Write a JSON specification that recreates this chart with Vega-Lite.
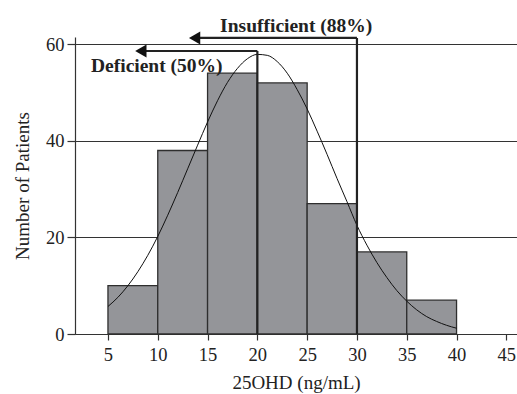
{
  "$schema": "https://vega.github.io/schema/vega-lite/v6.json",
  "width": 442,
  "height": 297,
  "autosize": {"type": "none"},
  "padding": {"left": 75, "top": 37, "right": 0, "bottom": 60},
  "background": "white",
  "config": {
    "view": {"stroke": null},
    "font": "Liberation Serif",
    "axis": {"labelFont": "Liberation Serif", "titleFont": "Liberation Serif", "labelColor": "#222", "titleColor": "#222", "labelFontSize": 18.5, "titleFontSize": 19, "titleFontWeight": "normal", "domainColor": "#333", "tickColor": "#333", "domainWidth": 1.2, "tickWidth": 1.2}
  },
  "datasets": {
    "bins": [
      {"start": 5, "end": 10, "count": 10, "base": 0},
      {"start": 10, "end": 15, "count": 38, "base": 0},
      {"start": 15, "end": 20, "count": 54, "base": 0},
      {"start": 20, "end": 25, "count": 52, "base": 0},
      {"start": 25, "end": 30, "count": 27, "base": 0},
      {"start": 30, "end": 35, "count": 17, "base": 0},
      {"start": 35, "end": 40, "count": 7, "base": 0}
    ],
    "curve": [
      {"x": 5, "y": 5.7}, {"x": 6, "y": 7.6}, {"x": 7, "y": 10.0}, {"x": 8, "y": 12.9}, {"x": 9, "y": 16.3},
      {"x": 10, "y": 20.2}, {"x": 11, "y": 24.6}, {"x": 12, "y": 29.3}, {"x": 13, "y": 34.2}, {"x": 14, "y": 39.1},
      {"x": 15, "y": 43.9}, {"x": 16, "y": 48.3}, {"x": 17, "y": 52.1}, {"x": 18, "y": 55.0}, {"x": 19, "y": 57.0},
      {"x": 20, "y": 57.9}, {"x": 21, "y": 57.7}, {"x": 22, "y": 56.4}, {"x": 23, "y": 54.0}, {"x": 24, "y": 50.6},
      {"x": 25, "y": 46.6}, {"x": 26, "y": 42.0}, {"x": 27, "y": 37.2}, {"x": 28, "y": 32.2}, {"x": 29, "y": 27.4},
      {"x": 30, "y": 22.5}, {"x": 31, "y": 18.4}, {"x": 32, "y": 14.8}, {"x": 33, "y": 11.7}, {"x": 34, "y": 9.0},
      {"x": 35, "y": 6.8}, {"x": 36, "y": 5.0}, {"x": 37, "y": 3.6}, {"x": 38, "y": 2.6}, {"x": 39, "y": 1.8},
      {"x": 40, "y": 1.2}
    ],
    "arrows": [
      {"label": "Insufficient (88%)", "tip": 13.0, "head": 13.7, "end": 30, "y": 61.3, "base": 0, "tx": 23.9, "ty": 62.6},
      {"label": "Deficient (50%)", "tip": 7.6, "head": 8.3, "end": 20, "y": 58.6, "base": 0, "tx": 9.9, "ty": 54.2}
    ]
  },
  "layer": [
    {
      "data": {"name": "bins"},
      "mark": {"type": "rect", "fill": "#949599", "stroke": "#2e2e2e", "strokeWidth": 1.3},
      "encoding": {
        "x": {"field": "start", "type": "quantitative",
          "scale": {"domain": [1.69, 46.07], "nice": false, "zero": false},
          "axis": {"values": [5, 10, 15, 20, 25, 30, 35, 40, 45], "title": "25OHD (ng/mL)", "grid": false, "tickSize": 6, "labelPadding": 5, "titlePadding": 10}},
        "x2": {"field": "end"},
        "y": {"field": "count", "type": "quantitative",
          "scale": {"domain": [0, 61.5], "nice": false},
          "axis": {"values": [0, 20, 40, 60], "title": "Number of Patients", "grid": true, "gridColor": "#333", "gridWidth": 1.2, "gridOpacity": 1, "tickSize": 8, "labelPadding": 3, "titlePadding": 13}},
        "y2": {"field": "base"}
      }
    },
    {
      "data": {"name": "curve"},
      "mark": {"type": "line", "color": "#111", "strokeWidth": 1, "interpolate": "monotone"},
      "encoding": {
        "x": {"field": "x", "type": "quantitative"},
        "y": {"field": "y", "type": "quantitative"}
      }
    },
    {
      "data": {"name": "arrows"},
      "mark": {"type": "rule", "color": "#222", "strokeWidth": 2.2},
      "encoding": {
        "x": {"field": "end", "type": "quantitative"},
        "y": {"field": "y", "type": "quantitative"},
        "y2": {"field": "base"}
      }
    },
    {
      "data": {"name": "arrows"},
      "mark": {"type": "rule", "color": "#222", "strokeWidth": 2.2},
      "encoding": {
        "x": {"field": "head", "type": "quantitative"},
        "x2": {"field": "end"},
        "y": {"field": "y", "type": "quantitative"}
      }
    },
    {
      "data": {"name": "arrows"},
      "mark": {"type": "point", "shape": "triangle-left", "filled": true, "color": "#111", "size": 170, "opacity": 1},
      "encoding": {
        "x": {"field": "head", "type": "quantitative"},
        "y": {"field": "y", "type": "quantitative"}
      }
    },
    {
      "data": {"name": "arrows"},
      "mark": {"type": "text", "font": "Liberation Serif", "fontWeight": "bold", "fontSize": 19.5, "color": "#222", "baseline": "alphabetic", "align": "center"},
      "encoding": {
        "x": {"field": "tx", "type": "quantitative"},
        "y": {"field": "ty", "type": "quantitative"},
        "text": {"field": "label"}
      }
    }
  ]
}
